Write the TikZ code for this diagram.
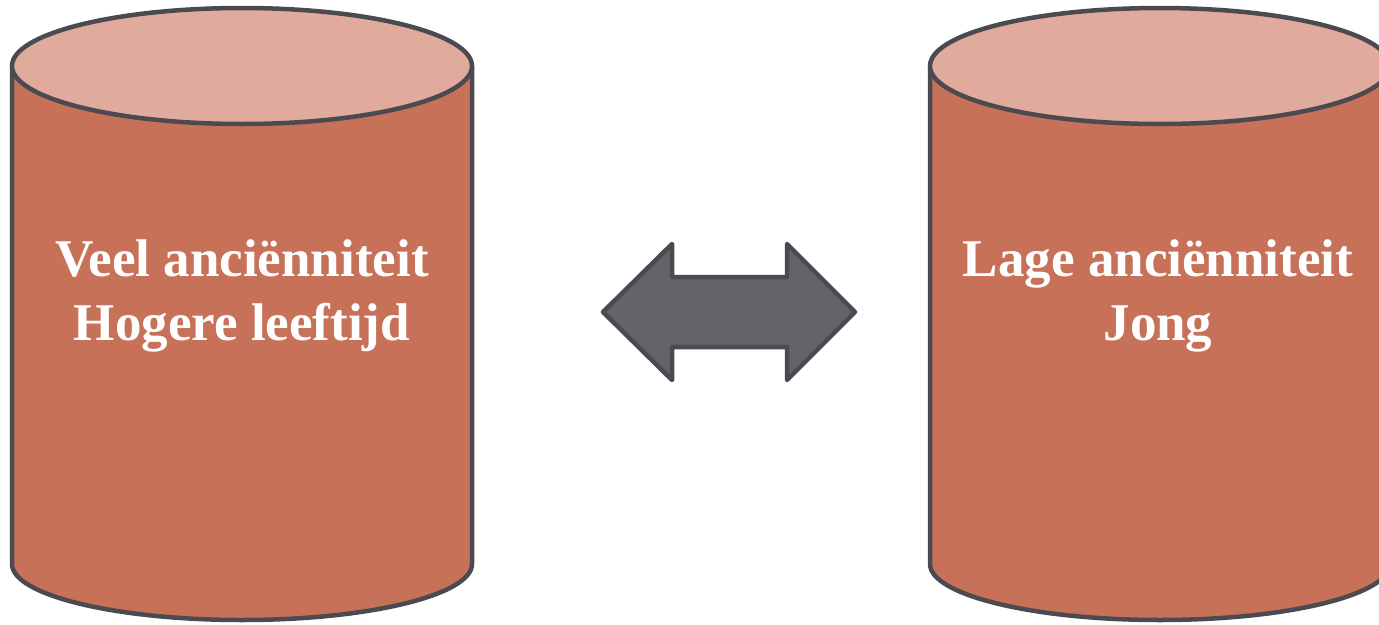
\documentclass[tikz,border=0pt]{standalone}
\usepackage{fontspec}
\setmainfont{Liberation Serif}
\definecolor{bodyc}{HTML}{C87159}
\definecolor{topc}{HTML}{E0AA9C}
\definecolor{edgec}{HTML}{4A4A50}
\definecolor{arrowc}{HTML}{636369}
\tikzset{
  edge/.style={draw=edgec, line width=4.5pt, line join=round},
  lbl/.style={text=white, font=\fontsize{53}{64}\selectfont\bfseries, align=center},
}
\newcommand{\mycyl}[3]{% center x, top y, bottom y
  \path[edge, fill=bodyc] (#1-230,#2) -- (#1-230,#3) arc[start angle=180, end angle=0, x radius=230, y radius=56] -- (#1+230,#2) -- cycle;
  \path[edge, fill=topc] (#1,#2) ellipse[x radius=230, y radius=58];
}
\begin{document}
\begin{tikzpicture}[x=1pt,y=-1pt]
\useasboundingbox (0,0) rectangle (1379,624);
\mycyl{242}{66}{564}
\mycyl{1160}{66}{564}
\path[edge, fill=arrowc] (603,312) -- (672,244) -- (672,277) -- (787,277) -- (787,244) -- (855,312) -- (787,380) -- (787,347) -- (672,347) -- (672,380) -- cycle;
\node[lbl] (left) at (242,296) {Veel anciënniteit\\Hogere leeftijd};
\node[lbl] (right) at (1158,296) {Lage anciënniteit\\Jong};
\end{tikzpicture}
\end{document}
